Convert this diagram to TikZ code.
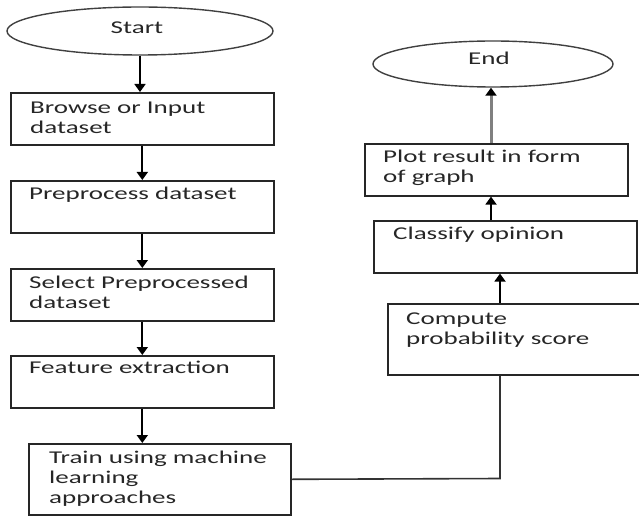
\documentclass[tikz,border=0pt]{standalone}
\usepackage{fontspec}
\setmainfont{Carlito}[FakeStretch=1.5]
\usetikzlibrary{shapes.geometric,arrows.meta}
\newcommand{\mylines}[1]{\begin{tabular}[t]{@{}l@{}}#1\end{tabular}}
\begin{document}
\begin{tikzpicture}[x=1bp,y=-1bp,
  box/.style={draw=black!85, line width=1.6bp, rectangle, inner sep=0pt, anchor=north west},
  txt/.style={anchor=base west, inner sep=0pt, text=black!85, font=\fontsize{18bp}{20bp}\selectfont},
  oval/.style={draw=black!75, line width=1.4bp, ellipse, inner sep=0pt},
  arr/.style={draw=black, line width=1.8bp, -{Triangle[length=8bp,width=11bp]}},
  arrg/.style={draw=black!50, line width=3bp, -{Triangle[length=8bp,width=11bp,color=black,fill=black]}},
  link/.style={draw=black!80, line width=1.6bp},
]
\useasboundingbox (0,0) rectangle (639,516);
\clip (0,0) rectangle (639,516);

% left column
\node[oval, minimum width=266bp, minimum height=48bp] (start) at (140,31) {};
\node[txt, anchor=base] (tstart) at (137,34) {Start};
\node[box, minimum width=263bp, minimum height=52bp] (b1) at (10,92) {};
\node[txt] (t1) at (30,114) {\mylines{Browse or Input\\dataset}};
\node[box, minimum width=263bp, minimum height=52bp] (b2) at (10,180) {};
\node[txt] (t2) at (29,200) {Preprocess dataset};
\node[box, minimum width=263bp, minimum height=52bp] (b3) at (10,268) {};
\node[txt] (t3) at (29,288) {\mylines{Select Preprocessed\\dataset}};
\node[box, minimum width=263bp, minimum height=52bp] (b4) at (10,355) {};
\node[txt] (t4) at (29,373) {Feature extraction};
\node[box, minimum width=262bp, minimum height=71bp] (b5) at (28,443) {};
\node[txt] (t5) at (49,463) {\mylines{Train using machine\\learning\\approaches}};

% right column
\node[oval, minimum width=240bp, minimum height=46bp] (end) at (493,64) {};
\node[txt, anchor=base] (tend) at (489,65) {End};
\node[box, minimum width=263bp, minimum height=52bp] (plot) at (364,143) {};
\node[txt] (t6) at (383,163) {\mylines{Plot result in form\\of graph}};
\node[box, minimum width=263bp, minimum height=52bp] (classify) at (373,220) {};
\node[txt] (t7) at (393,240) {Classify opinion};
\node[box, minimum width=262bp, minimum height=71bp] (compute) at (387,303) {};
\node[txt] (t8) at (406,324) {\mylines{Compute\\probability score}};

% connectors
\draw[arr] (start.south) -- (start.south |- b1.north);
\draw[arr] (b1.south) -- (b2.north);
\draw[arr] (b2.south) -- (b3.north);
\draw[arr] (b3.south) -- (b4.north);
\draw[arr] (b4.south) -- (b4.south |- b5.north);

\coordinate (turn) at (500,478.5);
\coordinate (ax) at (491,0);
\draw[link] (b5.east) -- (turn) -- (turn |- compute.south);
\draw[arr] (turn |- compute.north) -- (turn |- classify.south);
\draw[arr] (ax |- classify.north) -- (ax |- plot.south);
\draw[arrg] (ax |- plot.north) -- (ax |- end.south);
\end{tikzpicture}
\end{document}
